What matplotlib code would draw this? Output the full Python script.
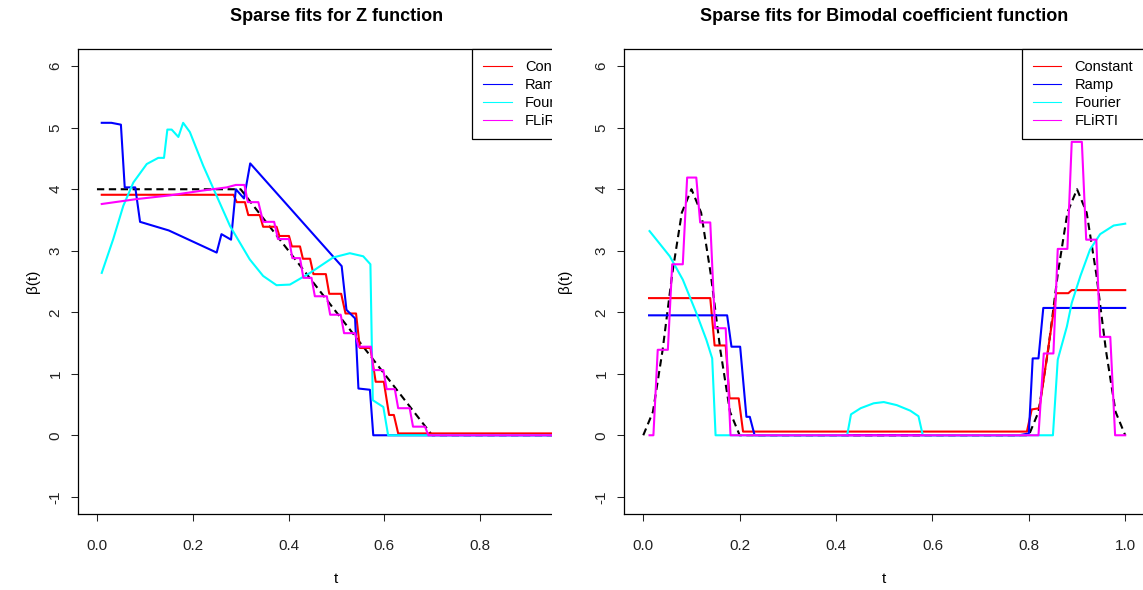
import matplotlib
matplotlib.use("Agg")
import matplotlib.pyplot as plt
from matplotlib.patches import Rectangle

plt.rcParams['font.family'] = ['Liberation Sans', 'DejaVu Sans']

# ---- left panel: Z function
tz_true = [0.0, 0.3, 0.7, 1.0]
bz_true = [4.0, 4.0, 0.0, 0.0]

tz_const = [0.01, 0.285, 0.292, 0.309, 0.316, 0.340, 0.347, 0.375, 0.381, 0.401, 0.407, 0.424, 0.430, 0.445,
            0.452, 0.478, 0.485, 0.510, 0.519, 0.541, 0.549, 0.571, 0.582, 0.599, 0.610, 0.620, 0.629, 1.0]
bz_const = [3.91, 3.91, 3.79, 3.79, 3.58, 3.58, 3.39, 3.39, 3.24, 3.24, 3.07, 3.07, 2.87, 2.87,
            2.62, 2.62, 2.30, 2.30, 1.98, 1.98, 1.42, 1.42, 0.87, 0.87, 0.33, 0.33, 0.03, 0.03]

tz_ramp = [0.01, 0.03, 0.05, 0.058, 0.08, 0.09, 0.15, 0.25, 0.26, 0.28, 0.29, 0.307, 0.32, 0.511, 0.521,
           0.539, 0.546, 0.570, 0.577, 1.0]
bz_ramp = [5.08, 5.08, 5.05, 4.03, 4.03, 3.47, 3.33, 2.97, 3.27, 3.18, 4.0, 3.85, 4.42, 2.75, 2.04,
           1.90, 0.76, 0.74, 0.0, 0.0]

tz_four = [0.01, 0.034, 0.055, 0.076, 0.104, 0.128, 0.14, 0.147, 0.156, 0.17, 0.18, 0.194, 0.222, 0.25,
           0.278, 0.319, 0.347, 0.375, 0.403, 0.445, 0.493, 0.528, 0.556, 0.571, 0.576, 0.598, 0.608, 1.0]
bz_four = [2.64, 3.19, 3.73, 4.11, 4.41, 4.51, 4.51, 4.97, 4.97, 4.85, 5.08, 4.93, 4.38, 3.89,
           3.40, 2.86, 2.59, 2.44, 2.45, 2.64, 2.89, 2.96, 2.91, 2.78, 0.57, 0.46, 0.0, 0.0]

tz_flirti = [0.01, 0.083, 0.152, 0.222, 0.271, 0.29, 0.308, 0.315, 0.337, 0.347, 0.370, 0.378, 0.401, 0.408,
             0.424, 0.431, 0.448, 0.455, 0.480, 0.487, 0.509, 0.516, 0.539, 0.546, 0.572, 0.577, 0.598,
             0.605, 0.622, 0.629, 0.653, 0.660, 0.685, 0.692, 1.0]
bz_flirti = [3.76, 3.84, 3.90, 3.98, 4.03, 4.07, 4.07, 3.79, 3.79, 3.47, 3.47, 3.19, 3.19, 2.88,
             2.88, 2.56, 2.56, 2.26, 2.26, 1.96, 1.96, 1.66, 1.66, 1.44, 1.44, 1.06, 1.06,
             0.75, 0.75, 0.44, 0.44, 0.14, 0.14, 0.0, 0.0]

# ---- right panel: bimodal function
tb_true = [0.0, 0.02, 0.04, 0.06, 0.08, 0.1, 0.12, 0.14, 0.16, 0.18, 0.2,
           0.8, 0.82, 0.84, 0.86, 0.88, 0.9, 0.92, 0.94, 0.96, 0.98, 1.0]
bb_true = [0.0, 0.38, 1.38, 2.62, 3.62, 4.0, 3.62, 2.62, 1.38, 0.38, 0.0,
           0.0, 0.38, 1.38, 2.62, 3.62, 4.0, 3.62, 2.62, 1.38, 0.38, 0.0]

tb_const = [0.012, 0.139, 0.148, 0.171, 0.179, 0.198, 0.207, 0.796, 0.806, 0.822, 0.857, 0.882, 0.889, 1.0]
bb_const = [2.23, 2.23, 1.46, 1.46, 0.60, 0.60, 0.06, 0.06, 0.42, 0.44, 2.31, 2.31, 2.36, 2.36]

tb_ramp = [0.012, 0.174, 0.183, 0.201, 0.214, 0.221, 0.231, 0.78, 0.80, 0.808, 0.82, 0.83, 1.0]
bb_ramp = [1.95, 1.95, 1.44, 1.44, 0.30, 0.30, 0.0, 0.0, 0.03, 1.25, 1.25, 2.07, 2.07]

tb_four = [0.013, 0.055, 0.082, 0.11, 0.131, 0.143, 0.15, 0.423, 0.431, 0.451, 0.478, 0.499, 0.526, 0.554,
           0.571, 0.58, 0.85, 0.86, 0.879, 0.889, 0.907, 0.927, 0.948, 0.976, 1.0]
bb_four = [3.32, 2.91, 2.53, 1.99, 1.55, 1.25, 0.0, 0.0, 0.34, 0.44, 0.52, 0.54, 0.49, 0.40,
           0.31, 0.0, 0.0, 1.23, 1.77, 2.15, 2.59, 3.02, 3.27, 3.41, 3.44]

tb_flirti = [0.013, 0.021, 0.030, 0.051, 0.060, 0.082, 0.091, 0.110, 0.118, 0.139, 0.149, 0.171, 0.181,
             0.82, 0.831, 0.851, 0.86, 0.88, 0.889, 0.91, 0.919, 0.94, 0.948, 0.969, 0.979, 1.0]
bb_flirti = [0, 0, 1.39, 1.39, 2.78, 2.78, 4.19, 4.19, 3.46, 3.46, 1.74, 1.74, 0,
             0, 1.33, 1.33, 3.03, 3.03, 4.77, 4.77, 3.18, 3.18, 1.6, 1.6, 0, 0]

labels = ['Constant', 'Ramp', 'Fourier', 'FLiRTI']
colors = ['red', 'blue', 'cyan', 'magenta']
xticks = [0.0, 0.2, 0.4, 0.6, 0.8, 1.0]
yticks = [-1, 0, 1, 2, 3, 4, 5, 6]

W, H = 1143, 590
fig = plt.figure(figsize=(W / 100, H / 100), dpi=100)


def panel(rect, title, truth, fits, ylab_x):
    ax = fig.add_axes([rect[0] / W, 1 - rect[3] / H, (rect[2] - rect[0]) / W, (rect[3] - rect[1]) / H])
    ax.plot(truth[0], truth[1], color='black', lw=1.5, ls=(0, (3.5, 2.2)))
    for (t, b), c in zip(fits, colors):
        ax.plot(t, b, color=c, lw=1.5)
    ax.set_xlim(-0.04, 1.04)
    ax.set_ylim(-1.28, 6.28)
    ax.set_xticks(xticks)
    ax.set_xticklabels(['%.1f' % v for v in xticks])
    ax.set_yticks(yticks)
    ax.set_yticklabels([str(v) for v in yticks], rotation=90, va='center')
    ax.tick_params(direction='out', length=5, width=0.75, labelsize=11, colors='#222222')
    ax.tick_params(axis='x', pad=13)
    ax.tick_params(axis='y', pad=6)
    for s in ax.spines.values():
        s.set_linewidth(0.9)
    ax.set_title(title, fontsize=13, fontweight='bold', pad=20)
    ax.set_xlabel('t', fontsize=11)
    ax.xaxis.set_label_coords(0.5, -0.125)
    ax.set_ylabel('β(t)', fontsize=11)
    ax.yaxis.set_label_coords(ylab_x, 0.5)
    handles = [plt.Line2D([], [], color=c, lw=0.8) for c in colors]
    leg = ax.legend(handles, labels, loc='upper right', borderaxespad=0, fontsize=10.5,
                    handlelength=1.95, handletextpad=0.9, labelspacing=0.26, borderpad=0.78,
                    fancybox=False, framealpha=1)
    leg.get_frame().set_edgecolor('black')
    leg.get_frame().set_linewidth(0.9)
    return ax


panel((77.8, 49, 595, 514), 'Sparse fits for Z function',
      (tz_true, bz_true),
      [(tz_const, bz_const), (tz_ramp, bz_ramp), (tz_four, bz_four), (tz_flirti, bz_flirti)], -0.073)
ax2 = panel((624, 49, 1144.5, 514), 'Sparse fits for Bimodal coefficient function',
            (tb_true, bb_true),
            [(tb_const, bb_const), (tb_ramp, bb_ramp), (tb_four, bb_four), (tb_flirti, bb_flirti)], -0.1)
ax2.set_zorder(20)

# the left picture is cut off where the right one starts
fig.add_artist(Rectangle((551.5 / W, 0), (597 - 551.5) / W, 1, transform=fig.transFigure,
                         facecolor='white', edgecolor='none', zorder=10))

fig.savefig('out.png', dpi=100)
